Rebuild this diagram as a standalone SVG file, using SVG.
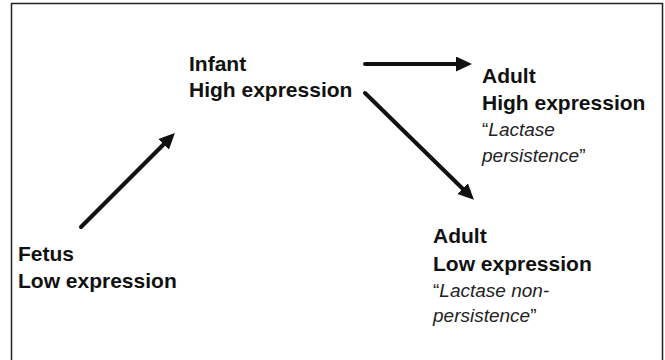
<svg xmlns="http://www.w3.org/2000/svg" width="665" height="360" viewBox="0 0 665 360">
<style>
.b{font-family:"Liberation Sans",Arial,sans-serif;font-weight:bold;font-size:21px;fill:#111}
.i{font-family:"Liberation Sans",Arial,sans-serif;font-style:italic;font-size:19px;fill:#222}
.q{font-style:normal}
.arr{stroke:#111;stroke-width:4;stroke-linecap:round;fill:none;marker-end:url(#ah)}
</style>
<defs>
<marker id="ah" markerUnits="userSpaceOnUse" markerWidth="18" markerHeight="16" refX="2" refY="7.5" orient="auto">
<path d="M0,0 L16,7.5 L0,15 z" fill="#111"/>
</marker>
</defs>
<rect x="0" y="0" width="665" height="360" fill="#fff"/>
<rect x="11.5" y="3.5" width="651" height="400" fill="none" stroke="#222" stroke-width="1.5"/>
<g id="connectors">
<line class="arr" x1="81" y1="227" x2="165" y2="143"/>
<line class="arr" x1="365" y1="64" x2="458" y2="64"/>
<line class="arr" x1="365" y1="93" x2="464" y2="190"/>
</g>
<g id="fetus">
<text class="b" x="18" y="261">Fetus</text>
<text class="b" x="18" y="288">Low expression</text>
</g>
<g id="infant">
<text class="b" x="189" y="71">Infant</text>
<text class="b" x="189" y="97">High expression</text>
</g>
<g id="adult-high">
<text class="b" x="482" y="83">Adult</text>
<text class="b" x="482" y="110">High expression</text>
<text class="i" x="482" y="136"><tspan class="q">“</tspan>Lactase</text>
<text class="i" x="482" y="162">persistence<tspan class="q">”</tspan></text>
</g>
<g id="adult-low">
<text class="b" x="433" y="243">Adult</text>
<text class="b" x="433" y="271">Low expression</text>
<text class="i" x="433" y="297"><tspan class="q">“</tspan>Lactase non-</text>
<text class="i" x="433" y="322">persistence<tspan class="q">”</tspan></text>
</g>
</svg>
